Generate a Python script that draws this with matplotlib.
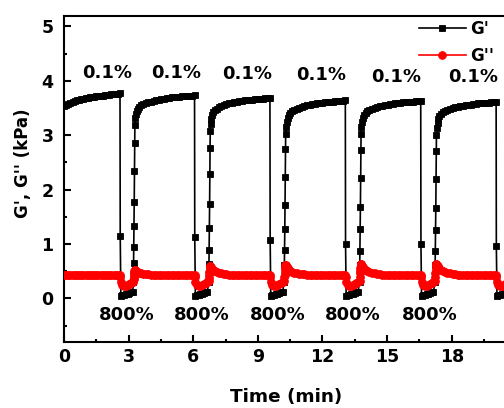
import matplotlib
matplotlib.use("Agg")
import matplotlib.pyplot as plt
from matplotlib.ticker import MultipleLocator

# ---------------- data ----------------
# cycle 1 (0.1 % strain), starts at t = 0
c1_time = [0.0, 0.1, 0.2, 0.3, 0.4, 0.5, 0.6, 0.7, 0.8, 0.9, 1.0, 1.1, 1.2, 1.3,
           1.4, 1.5, 1.6, 1.7, 1.8, 1.9, 2.0, 2.1, 2.2, 2.3, 2.4, 2.5, 2.6]
c1_G1 = [3.54, 3.56, 3.58, 3.595, 3.61, 3.625, 3.64, 3.65, 3.66, 3.67, 3.68, 3.69, 3.695,
         3.70, 3.71, 3.715, 3.72, 3.725, 3.73, 3.735, 3.74, 3.745, 3.75, 3.755, 3.76, 3.765, 3.77]
c1_G2 = [0.44, 0.44, 0.44, 0.44, 0.44, 0.44, 0.435, 0.435, 0.435, 0.435, 0.43, 0.43, 0.43,
         0.43, 0.43, 0.43, 0.43, 0.43, 0.43, 0.43, 0.43, 0.43, 0.43, 0.43, 0.43, 0.43, 0.43]

# start of 800 % segments and of the following 0.1 % segments (min)
drop_time = [2.61, 6.07, 9.57, 13.07, 16.57, 20.07]
recover_start = [3.22, 6.72, 10.22, 13.72, 17.22]

# 800 % segment: relative times, first point is the drop point
strain_dt = [0.0, 0.03, 0.10, 0.18, 0.26, 0.34, 0.42, 0.50, 0.58]
drop_G1 = [1.15, 1.13, 1.07, 1.00, 1.00, 0.96]
strain_G1 = [0.05, 0.06, 0.07, 0.08, 0.09, 0.10, 0.11, 0.12]
strain_G2 = [0.40, 0.30, 0.24, 0.23, 0.23, 0.24, 0.26, 0.29, 0.31]

# recovery points at the start of 0.1 % segments 2..6
rec_dt = [0.0, 0.01, 0.02, 0.03, 0.04, 0.05, 0.06, 0.07]
rec_G1 = [
    [0.30, 0.65, 0.94, 1.33, 1.78, 2.34, 2.86, 3.18],
    [0.30, 0.64, 0.89, 1.29, 1.74, 2.28, 2.77, 3.08],
    [0.30, 0.61, 0.89, 1.27, 1.72, 2.24, 2.74, 3.03],
    [0.30, 0.62, 0.88, 1.27, 1.69, 2.22, 2.73, 3.03],
    [0.30, 0.62, 0.87, 1.26, 1.67, 2.20, 2.71, 3.01],
]
rec_G2 = [
    [0.32, 0.36, 0.40, 0.44, 0.47, 0.50, 0.52, 0.52],
    [0.33, 0.38, 0.43, 0.48, 0.53, 0.57, 0.60, 0.60],
    [0.33, 0.39, 0.44, 0.49, 0.54, 0.58, 0.61, 0.62],
    [0.33, 0.40, 0.46, 0.51, 0.56, 0.60, 0.63, 0.64],
    [0.33, 0.40, 0.46, 0.51, 0.56, 0.60, 0.63, 0.64],
]

# plateau of 0.1 % segments 2..6
plateau_dt = [0.09, 0.12, 0.16, 0.21, 0.28, 0.36, 0.46, 0.58, 0.70, 0.82, 0.94, 1.06, 1.18, 1.30,
              1.42, 1.54, 1.66, 1.78, 1.90, 2.02, 2.14, 2.26, 2.38, 2.50, 2.62, 2.74, 2.84]
plat_G1 = [
    [3.32, 3.40, 3.45, 3.49, 3.52, 3.55, 3.57, 3.59, 3.61, 3.62, 3.635, 3.645, 3.655, 3.665,
     3.675, 3.68, 3.69, 3.695, 3.70, 3.705, 3.71, 3.715, 3.72, 3.725, 3.73, 3.73, 3.735],
    [3.20, 3.30, 3.37, 3.42, 3.46, 3.49, 3.52, 3.54, 3.56, 3.57, 3.585, 3.595, 3.605, 3.615,
     3.625, 3.63, 3.64, 3.645, 3.65, 3.655, 3.66, 3.665, 3.67, 3.675, 3.68, 3.68, 3.685],
    [3.15, 3.25, 3.32, 3.37, 3.41, 3.44, 3.47, 3.49, 3.51, 3.525, 3.54, 3.55, 3.56, 3.57,
     3.575, 3.585, 3.59, 3.60, 3.605, 3.61, 3.615, 3.62, 3.625, 3.63, 3.63, 3.635, 3.64],
    [3.15, 3.25, 3.32, 3.37, 3.41, 3.44, 3.47, 3.49, 3.51, 3.52, 3.535, 3.545, 3.555, 3.565,
     3.57, 3.58, 3.585, 3.59, 3.60, 3.605, 3.61, 3.615, 3.62, 3.62, 3.625, 3.63, 3.63],
    [3.13, 3.23, 3.30, 3.35, 3.39, 3.42, 3.45, 3.47, 3.49, 3.50, 3.515, 3.525, 3.535, 3.545,
     3.55, 3.56, 3.565, 3.57, 3.58, 3.585, 3.59, 3.595, 3.60, 3.60, 3.605, 3.61, 3.61],
]
plat_G2 = [
    [0.51, 0.50, 0.49, 0.48, 0.47, 0.46, 0.455, 0.45, 0.445, 0.44, 0.44, 0.44, 0.435, 0.435,
     0.435, 0.43, 0.43, 0.43, 0.43, 0.43, 0.43, 0.43, 0.43, 0.43, 0.43, 0.43, 0.43],
    [0.58, 0.56, 0.54, 0.52, 0.50, 0.48, 0.47, 0.46, 0.45, 0.445, 0.44, 0.44, 0.44, 0.435,
     0.435, 0.435, 0.43, 0.43, 0.43, 0.43, 0.43, 0.43, 0.43, 0.43, 0.43, 0.43, 0.43],
    [0.60, 0.58, 0.56, 0.53, 0.51, 0.49, 0.475, 0.465, 0.455, 0.45, 0.445, 0.44, 0.44, 0.44,
     0.435, 0.435, 0.435, 0.43, 0.43, 0.43, 0.43, 0.43, 0.43, 0.43, 0.43, 0.43, 0.43],
    [0.62, 0.60, 0.57, 0.54, 0.52, 0.50, 0.48, 0.47, 0.46, 0.45, 0.445, 0.44, 0.44, 0.44,
     0.435, 0.435, 0.435, 0.43, 0.43, 0.43, 0.43, 0.43, 0.43, 0.43, 0.43, 0.43, 0.43],
    [0.62, 0.60, 0.57, 0.54, 0.52, 0.50, 0.48, 0.47, 0.46, 0.45, 0.445, 0.44, 0.44, 0.44,
     0.435, 0.435, 0.435, 0.43, 0.43, 0.43, 0.43, 0.43, 0.43, 0.43, 0.43, 0.43, 0.43],
]

# annotation labels
low_label = "0.1%"
low_label_x = [2.0, 5.2, 8.5, 11.93, 15.41, 18.99]
low_label_y = [4.15, 4.15, 4.13, 4.10, 4.07, 4.07]
high_label = "800%"
high_label_x = [2.92, 6.41, 9.94, 13.42, 16.99]
high_label_y = -0.31

x_ticks = [0, 3, 6, 9, 12, 15, 18]
y_ticks = [0, 1, 2, 3, 4, 5]

# ---------------- assemble series ----------------
t, g1, g2 = list(c1_time), list(c1_G1), list(c1_G2)
for k in range(6):
    t += [drop_time[k] + d for d in strain_dt]
    g1 += [drop_G1[k]] + strain_G1
    g2 += strain_G2
    if k < 5:
        t += [recover_start[k] + d for d in rec_dt]
        g1 += rec_G1[k]
        g2 += rec_G2[k]
        t += [recover_start[k] + d for d in plateau_dt]
        g1 += plat_G1[k]
        g2 += plat_G2[k]

# ---------------- plot ----------------
plt.rcParams['font.family'] = ['DejaVu Sans']
plt.rcParams['font.weight'] = 'bold'

fig = plt.figure(figsize=(5.04, 4.08), dpi=100)
ax = fig.add_axes([64 / 504, 1 - 342 / 408, 441.6 / 504, 326.4 / 408])

ax.plot(t, g1, color='black', lw=1.2, marker='s', ms=4.8, mew=0.6,
        mfc='black', mec='black', label="G'", zorder=3)
ax.plot(t, g2, color='red', lw=1.2, marker='o', ms=5.6, mew=0.6,
        mfc='red', mec='red', label="G''", zorder=4)

ax.set_xlim(0, 20.5)
ax.set_ylim(-0.8, 5.2)
ax.set_xticks(x_ticks)
ax.set_yticks(y_ticks)
ax.xaxis.set_minor_locator(MultipleLocator(1.5))
ax.yaxis.set_minor_locator(MultipleLocator(0.5))
ax.tick_params(which='both', direction='in', width=1.5, top=False, right=False)
ax.tick_params(which='major', length=5, labelsize=12.5)
ax.tick_params(axis='x', which='major', pad=4)
ax.tick_params(axis='y', which='major', pad=7.5)
ax.tick_params(which='minor', length=2.5)
for lab in ax.get_xticklabels() + ax.get_yticklabels():
    lab.set_fontweight('bold')
for sp in ax.spines.values():
    sp.set_linewidth(1.5)

for x, y in zip(low_label_x, low_label_y):
    ax.text(x, y, low_label, ha='center', va='center', fontsize=13, fontweight='bold')
for x in high_label_x:
    ax.text(x, high_label_y, high_label, ha='center', va='center', fontsize=13, fontweight='bold')

fig.text(285.8 / 504, 1 - 401.7 / 408, "Time (min)", ha='center', va='baseline',
         fontsize=13.2, fontweight='bold')
fig.text(23 / 504, 1 - 163 / 408, "G', G'' (kPa)", ha='center', va='center',
         rotation=90, fontsize=12, fontweight='bold')

leg = ax.legend(loc='upper left', bbox_to_anchor=(419 / 504, 1 - 20 / 408),
                bbox_transform=fig.transFigure, frameon=False, fontsize=12,
                handlelength=2.8, handletextpad=0.25, labelspacing=0.55,
                borderpad=0, borderaxespad=0, numpoints=1)
for txt in leg.get_texts():
    txt.set_fontweight('bold')

fig.savefig("out.png", dpi=100)
